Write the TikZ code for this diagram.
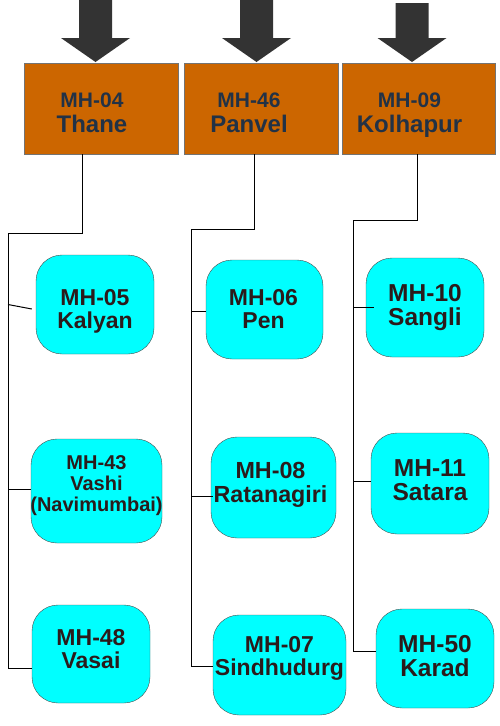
\documentclass[tikz,border=0pt]{standalone}
\usepackage{fontspec}
\setmainfont{Liberation Sans}
\usepackage{tikz}
\usetikzlibrary{positioning,calc}
\usepackage{xcolor}
\definecolor{rtoorange}{HTML}{CC6600}
\definecolor{rtotext}{HTML}{223246}
\definecolor{subcyan}{HTML}{00FFFF}
\definecolor{subtext}{HTML}{2B1B1B}
\definecolor{arrowgray}{HTML}{333333}

\tikzset{
    rtobox/.style={draw=gray!90!black, fill=rtoorange, minimum width=154pt, minimum height=91pt, inner sep=0pt},
    rtolbl/.style={text=rtotext, align=center, inner sep=0pt, font=\bfseries\fontsize{24}{25}\selectfont},
    subbox/.style={draw=black!70, fill=subcyan, rounded corners=26pt, minimum width=118pt, minimum height=99pt, inner sep=0pt},
    sublbl/.style={text=subtext, align=center, inner sep=0pt, font=\bfseries\fontsize{23}{23}\selectfont},
    bigsub/.style={font=\bfseries\fontsize{24.5}{24}\selectfont},
    link/.style={black, line width=1pt},
}

\begin{document}
\begin{tikzpicture}[x=1pt,y=-1pt]
    \useasboundingbox (0,0) rectangle (500,726);

    % 箭头
    \foreach \cx/\top in {95.5/0,256.5/0,412/3} {
        \fill[arrowgray] (\cx-16.5,\top) -- (\cx+16.5,\top) -- (\cx+16.5,38) -- (\cx+34.5,38)
            -- (\cx,62) -- (\cx-34.5,38) -- (\cx-16.5,38) -- cycle;
    }

    % 上层
    \node[rtobox, label={[rtolbl,xshift=-9pt,yshift=-4.5pt]center:{\fontsize{21}{25}\selectfont MH-04}\\Thane}] (thane) at (101,108.5) {};
    \node[rtobox, label={[rtolbl,xshift=-12pt,yshift=-4.5pt]center:{\fontsize{21}{25}\selectfont MH-46}\\Panvel}] (panvel) at (261,108.5) {};
    \node[rtobox, minimum width=153pt, label={[rtolbl,xshift=-9pt,yshift=-6.5pt]center:{\fontsize{21}{25}\selectfont MH-09}\\Kolhapur}] (kolhapur) at (418.5,108.5) {};

    % 下层
    \node[subbox, label={[sublbl,yshift=-6.5pt]center:MH-05\\Kalyan}] (kalyan) at (95,304.5) {};
    \node[subbox, minimum width=131pt, minimum height=104pt,
        label={[sublbl,yshift=5pt,font=\bfseries\fontsize{20}{21}\selectfont]center:MH-43\\Vashi\\(Navimumbai)}] (vashi) at (96.5,491) {};
    \node[subbox, minimum height=98pt, label={[sublbl,yshift=4.5pt]center:MH-48\\Vasai}] (vasai) at (91,654) {};

    \node[subbox, minimum width=117pt, label={[sublbl,xshift=-1pt]center:MH-06\\Pen}] (pen) at (264.5,309.5) {};
    \node[subbox, minimum width=125pt, minimum height=101pt,
        label={[sublbl,xshift=-3pt,yshift=2.5pt,font=\bfseries\fontsize{23.3}{24}\selectfont]center:MH-08\\Ratanagiri}] (ratanagiri) at (273.5,487.5) {};
    \node[subbox, minimum width=133pt, minimum height=100pt, label={[sublbl,yshift=6.5pt]center:MH-07\\Sindhudurg}] (sindhudurg) at (279.5,665) {};

    \node[subbox, label={[sublbl,bigsub]center:MH-10\\Sangli}] (sangli) at (425,307.5) {};
    \node[subbox, minimum height=101pt, label={[sublbl,bigsub,yshift=3.5pt]center:MH-11\\Satara}] (satara) at (430,483.5) {};
    \node[subbox, label={[sublbl,bigsub,yshift=2pt]center:MH-50\\Karad}] (karad) at (435,658.5) {};

    % 连线
    \coordinate (c1) at (8,233);
    \coordinate (c2) at (191,229);
    \coordinate (c3) at (353,220);

    \draw[link] ([xshift=-19pt]thane.south) |- (c1) |- ([yshift=-14pt]vasai.west);
    \draw[link] ([yshift=-4.5pt,xshift=-4pt]kalyan.west) -- (kalyan.west -| c1);
    \draw[link] ([yshift=2pt]vashi.west) -- ([yshift=2pt]vashi.west -| c1);

    \draw[link] ([xshift=-7pt]panvel.south) |- (c2) |- ([yshift=-1pt]sindhudurg.west);
    \draw[link] ([yshift=-1.5pt]pen.west) -- ([yshift=-1.5pt]pen.west -| c2);
    \draw[link] ([yshift=-8.5pt,xshift=2pt]ratanagiri.west) -- ([yshift=-8.5pt]ratanagiri.west -| c2);

    \draw[link] ([xshift=-1.5pt]kolhapur.south) |- (c3) |- ([yshift=7.5pt]karad.west);
    \draw[link] ([xshift=8pt]sangli.west) -- (sangli.west -| c3);
    \draw[link] ([yshift=2.5pt]satara.west) -- ([yshift=2.5pt]satara.west -| c3);
\end{tikzpicture}
\end{document}
